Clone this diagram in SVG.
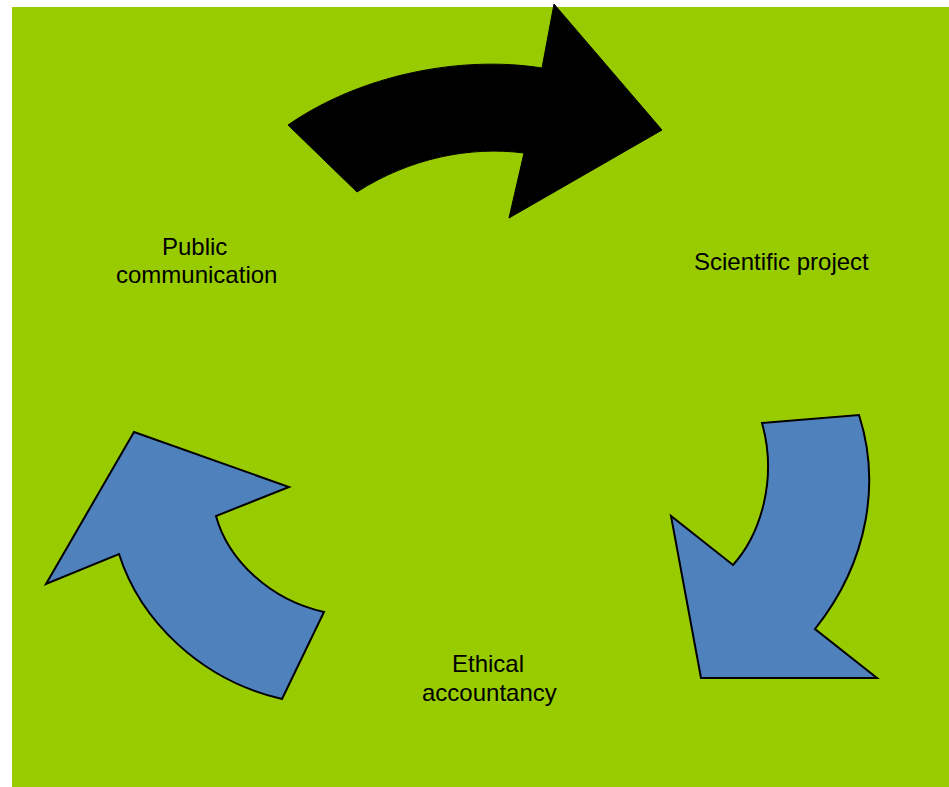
<svg xmlns="http://www.w3.org/2000/svg" width="949" height="787" viewBox="0 0 949 787">
<style>
.lbl{font-family:"Liberation Sans",Arial,sans-serif;font-size:24px;fill:#000}
.blue{fill:#4F81BD;stroke:#000;stroke-width:2;stroke-linejoin:miter}
.blk{fill:#000;stroke:#000;stroke-width:1}
</style>
<rect x="0" y="0" width="949" height="787" fill="#ffffff"/>
<rect id="background" x="12" y="7" width="937" height="780" fill="#99CC00"/>
<g id="connectors">
<path id="arrow-top" class="blk" d="M288,125 C360,75 460,55 542,68 L554,4 L662,130 L509,218 L524,153 C470,146 410,158 357,192 Z"/>
<path id="arrow-right" class="blue" d="M762,423 L859,415 C880,480 870,560 815,629 L877,678 L701,678 L671,516 L733,565 C760,535 778,480 762,423 Z"/>
<path id="arrow-left" class="blue" d="M134,432 L289,487 L216,516 C228,560 270,600 324,612 L282,699 C200,680 140,620 119,554 L46,584 Z"/>
</g>
<g id="node-public">
<text class="lbl" x="162" y="255">Public</text>
<text class="lbl" x="116" y="283">communication</text>
</g>
<g id="node-scientific">
<text class="lbl" x="694" y="270">Scientific project</text>
</g>
<g id="node-ethical">
<text class="lbl" x="452" y="672">Ethical</text>
<text class="lbl" x="422" y="701">accountancy</text>
</g>
</svg>
